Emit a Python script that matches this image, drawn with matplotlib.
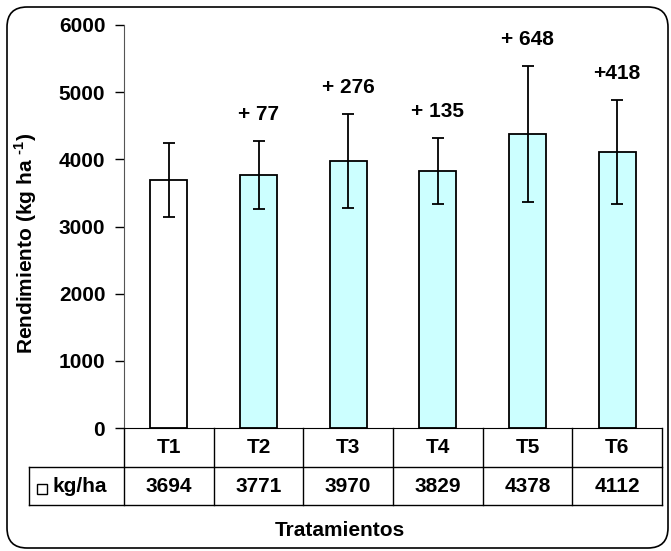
import matplotlib
matplotlib.use("Agg")
from matplotlib import pyplot as plt
from matplotlib import transforms
from matplotlib.patches import FancyBboxPatch, Rectangle
from matplotlib.lines import Line2D
import numpy as np

plt.rcParams['font.family'] = ['Liberation Sans', 'DejaVu Sans']
plt.rcParams['font.weight'] = 'bold'
plt.rcParams['mathtext.fontset'] = 'custom'
plt.rcParams['mathtext.bf'] = 'Liberation Sans:bold'
plt.rcParams['mathtext.rm'] = 'Liberation Sans:bold'

treatments = ['T1', 'T2', 'T3', 'T4', 'T5', 'T6']
yields = [3694, 3771, 3970, 3829, 4378, 4112]
errors = [550, 505, 700, 490, 1010, 770]
gains = ['', '+ 77', '+ 276', '+ 135', '+ 648', '+418']
colors = ['white', '#CCFFFF', '#CCFFFF', '#CCFFFF', '#CCFFFF', '#CCFFFF']
row_label = 'kg/ha'

FS = 15
W, H = 671, 551
fig = plt.figure(figsize=(W / 100, H / 100), dpi=100)
L, R, T, B = 124, 662, 25, 428
ax = fig.add_axes([L / W, 1 - B / H, (R - L) / W, (B - T) / H])

x = np.arange(len(treatments))
ax.bar(x, yields, width=0.41, color=colors, edgecolor='black', linewidth=1.3, zorder=2)
ax.errorbar(x, yields, yerr=errors, fmt='none', ecolor='black', elinewidth=1.3,
            capsize=4.5, capthick=1.3, zorder=3)
for xi, y, e, g in zip(x, yields, errors, gains):
    if g:
        ax.annotate(g, (xi, y + e), xytext=(0, 19), textcoords='offset points',
                    ha='center', va='center', fontsize=FS, fontweight='bold')

ax.set_xlim(-0.5, len(treatments) - 0.5)
ax.set_ylim(0, 6000)
ax.set_yticks(np.arange(0, 6001, 1000))
ax.tick_params(axis='y', direction='out', length=6.5, width=1, pad=7, labelsize=FS)
ax.set_xticks([])
for s in ['top', 'right']:
    ax.spines[s].set_visible(False)
ax.spines['left'].set_color('#555555')
ax.spines['bottom'].set_color('black')
for lab in ax.get_yticklabels():
    lab.set_fontweight('bold')

# data table under the axis
h = B - T
r1 = -39 / h
r2 = -77 / h
xl = (29 - L) / (R - L)
blend = transforms.blended_transform_factory(ax.transData, ax.transAxes)
kw = dict(color='black', linewidth=1, clip_on=False)
ax.add_line(Line2D([xl, 1], [r1, r1], transform=ax.transAxes, **kw))
ax.add_line(Line2D([xl, 1], [r2, r2], transform=ax.transAxes, **kw))
ax.add_line(Line2D([xl, xl], [r1, r2], transform=ax.transAxes, **kw))
for k in range(len(treatments) + 1):
    ax.add_line(Line2D([k - 0.5, k - 0.5], [0, r2], transform=blend, **kw))
for xi, t, v in zip(x, treatments, yields):
    ax.text(xi, r1 / 2, t, transform=blend, ha='center', va='center', fontsize=FS, fontweight='bold')
    ax.text(xi, (r1 + r2) / 2, str(v), transform=blend, ha='center', va='center',
            fontsize=FS, fontweight='bold')
fig.patches.append(Rectangle((37 / W, 1 - 494 / H), 10 / W, 10 / H, transform=fig.transFigure,
                             facecolor='white', edgecolor='black', linewidth=1))
fig.text(52 / W, 1 - 487 / H, row_label, ha='left', va='center', fontsize=FS, fontweight='bold')

fig.text(26 / W, 1 - 243 / H, r'Rendimiento (kg ha $^{\text{-1}}$)', rotation=90,
         ha='center', va='center', fontsize=FS, fontweight='bold')
fig.text(340 / W, 1 - 530 / H, 'Tratamientos', ha='center', va='center', fontsize=FS,
         fontweight='bold')

fig.patches.append(FancyBboxPatch((7 / W, 1 - 548 / H), 661 / W, 541 / H,
                                  boxstyle='round,pad=0,rounding_size=0.03',
                                  mutation_aspect=W / H, transform=fig.transFigure,
                                  facecolor='none', edgecolor='black', linewidth=1.2))

fig.savefig('out.png', dpi=100)
